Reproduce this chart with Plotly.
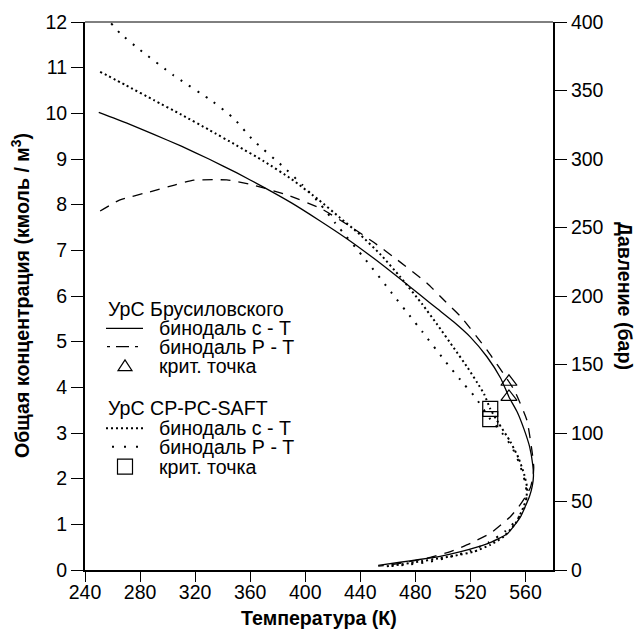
import plotly.graph_objects as go

# ---- Brusilovsky EoS: c-T binodal (liquid branch -> nose -> vapour branch)
t_brus_c = [250, 270, 290, 310, 330, 350, 370, 390, 410, 430, 450, 470, 484, 496,
            508, 520, 532, 542, 548, 554, 559, 563, 565.3, 565.8, 565.0, 563.0,
            560.0, 556.5, 547, 532, 513, 498, 483, 469, 453]
c_brus = [10.02, 9.79, 9.54, 9.28, 9.00, 8.70, 8.38, 8.04, 7.66, 7.26, 6.82, 6.35,
          6.01, 5.72, 5.43, 5.10, 4.67, 4.20, 3.79, 3.46, 3.08, 2.70, 2.30, 2.05,
          1.85, 1.62, 1.40, 1.17, 0.80, 0.57, 0.40, 0.30, 0.23, 0.17, 0.10]

# ---- Brusilovsky EoS: P-T binodal
t_brus_p = [251, 265, 287, 305, 319, 343, 362, 387, 411, 433, 450, 467, 488.5, 502,
            513, 532, 548, 552, 561, 565, 566, 565.5, 563.5, 560, 555, 549, 534.5,
            520, 505.5, 490, 475, 460, 453]
p_brus = [262, 270, 276, 281, 284.5, 284.7, 281, 273.7, 264, 250.6, 239, 226.3, 209.3,
          195.8, 184.9, 160.6, 137.4, 131.0, 109.5, 85, 75, 68, 60, 53.5, 46, 38.9,
          26.8, 19.5, 13.4, 9.0, 6.0, 3.5, 2.8]

# ---- CP-PC-SAFT EoS: c-T binodal
t_saft_c = [251, 270, 290, 310, 330, 350, 370, 390, 410, 425, 440, 455, 469, 485,
            496, 508, 518, 525, 530, 534.4, 540.6, 549, 555, 559, 561.2, 560.5,
            557.6, 552.7, 544.2, 534.5, 522.4, 508, 498, 480, 457]
c_saft = [10.91, 10.61, 10.29, 9.97, 9.64, 9.30, 8.95, 8.56, 8.10, 7.72, 7.34, 6.90,
          6.42, 5.82, 5.37, 4.86, 4.43, 4.10, 3.85, 3.53, 3.21, 2.81, 2.45, 2.10,
          1.80, 1.55, 1.31, 1.02, 0.73, 0.55, 0.40, 0.31, 0.26, 0.17, 0.07]

# ---- CP-PC-SAFT EoS: P-T binodal
t_saft_p = [259, 265.5, 280, 304, 333, 348, 362, 384, 398, 411, 422, 444, 463, 476.4,
            485, 502, 515, 523.6, 534.4, 543, 550, 555.5, 559.5, 561, 559, 554, 545,
            533, 520, 505, 490, 475, 458]
p_saft = [399, 391.7, 379.6, 361.3, 341.8, 329.7, 313.9, 294.4, 281, 267, 253, 226.3,
          202, 184.9, 174, 152, 136, 126, 110.1, 100, 90, 78, 65, 55, 45, 37, 28, 20,
          14, 9.5, 6.0, 4.0, 2.4]

# ---- critical points
t_crit_brus, c_crit_brus, p_crit_brus = 548.0, 3.79, 137.4
t_crit_saft, c_crit_saft, p_crit_saft = 534.4, 3.53, 110.1

# ---- ticks
x_ticks = [240, 280, 320, 360, 400, 440, 480, 520, 560]
c_ticks = list(range(0, 13))
p_ticks = [0, 50, 100, 150, 200, 250, 300, 350, 400]

FONT = "Liberation Sans, Arial, sans-serif"
BLACK = "#000000"

W, H = 637, 631
L, R, T, B = 85, 84, 22, 61
PW, PH = W - L - R, H - T - B


def px(x):
    return (x - L) / PW


def py(y):
    return (H - B - y) / PH


fig = go.Figure()

fig.add_trace(go.Scatter(x=t_brus_c, y=c_brus, mode="lines",
                         line=dict(color=BLACK, width=1.3, shape="spline", smoothing=0.5),
                         showlegend=False))
fig.add_trace(go.Scatter(x=t_brus_p, y=p_brus, mode="lines", yaxis="y2",
                         line=dict(color=BLACK, width=1.3, dash="10px,8px",
                                   shape="spline", smoothing=0.5),
                         showlegend=False))
fig.add_trace(go.Scatter(x=t_saft_c, y=c_saft, mode="lines",
                         line=dict(color=BLACK, width=2, dash="2px,3px",
                                   shape="spline", smoothing=0.5),
                         showlegend=False))
fig.add_trace(go.Scatter(x=t_saft_p, y=p_saft, mode="lines", yaxis="y2",
                         line=dict(color=BLACK, width=2, dash="2px,8px",
                                   shape="spline", smoothing=0.5),
                         showlegend=False))

tri = dict(symbol="triangle-up-open", size=14, color=BLACK, line=dict(width=1.2, color=BLACK))
sq = dict(symbol="square-open", size=15, color=BLACK, line=dict(width=1.2, color=BLACK))
fig.add_trace(go.Scatter(x=[t_crit_brus], y=[c_crit_brus], mode="markers", marker=tri,
                         showlegend=False))
fig.add_trace(go.Scatter(x=[t_crit_brus], y=[p_crit_brus], mode="markers", marker=tri,
                         yaxis="y2", showlegend=False))
fig.add_trace(go.Scatter(x=[t_crit_saft], y=[c_crit_saft], mode="markers", marker=sq,
                         showlegend=False))
fig.add_trace(go.Scatter(x=[t_crit_saft], y=[p_crit_saft], mode="markers", marker=sq,
                         yaxis="y2", showlegend=False))

tick_font = dict(family=FONT, size=19.5, color=BLACK)
axis_common = dict(showgrid=False, zeroline=False, showline=True, linecolor=BLACK,
                   linewidth=2, ticks="outside", tickwidth=1.3,
                   tickcolor=BLACK, tickfont=tick_font)

fig.update_layout(
    width=W, height=H, autosize=False,
    margin=dict(l=L, r=R, t=T, b=B),
    paper_bgcolor="white", plot_bgcolor="white",
    showlegend=False,
    xaxis=dict(range=[240, 580], tickvals=x_ticks, ticklen=10, ticklabelstandoff=-6,
               **axis_common),
    yaxis=dict(range=[0, 12], tickvals=c_ticks, ticklen=12, **axis_common),
    yaxis2=dict(range=[0, 400], tickvals=p_ticks, ticklen=12, overlaying="y",
                side="right", **axis_common),
)

# thin frame line along the top
fig.add_shape(type="line", xref="paper", yref="paper", x0=0, x1=1, y0=1, y1=1,
              line=dict(color=BLACK, width=1))

# axis titles
title_font = dict(family=FONT, size=19.6, color=BLACK)
fig.add_annotation(text="<b>Температура (К)</b>", xref="paper", yref="paper",
                   x=0.5, y=py(618), showarrow=False, font=title_font,
                   xanchor="center", yanchor="middle")
fig.add_annotation(text="<b>Общая концентрация (кмоль / м<sup>3</sup>)</b>",
                   xref="paper", yref="paper", x=px(21), y=py(296), textangle=-90,
                   showarrow=False, font=title_font, xanchor="center", yanchor="middle")
fig.add_annotation(text="<b>Давление (бар)</b>", xref="paper", yref="paper",
                   x=px(625), y=py(296), textangle=90, showarrow=False, font=title_font,
                   xanchor="center", yanchor="middle")

# legend block
leg_font = dict(family=FONT, size=19.6, color=BLACK)
x_sample0, x_sample1, x_text = 106, 143, 157
rows = [
    ("УрС Брусиловского", 309, None),
    ("бинодаль с - Т", 328.3, "solid"),
    ("бинодаль Р - Т", 346.7, "dash"),
    ("крит. точка", 366.5, "tri"),
    ("УрС CP-PC-SAFT", 408.3, None),
    ("бинодаль с - Т", 428.3, "dense"),
    ("бинодаль Р - Т", 446.7, "sparse"),
    ("крит. точка", 466.7, "sq"),
]
for text, yy, kind in rows:
    xt = x_sample0 if kind is None else x_text
    fig.add_annotation(text=text, xref="paper", yref="paper", x=px(xt), y=py(yy),
                       showarrow=False, font=leg_font, xanchor="left", yanchor="middle")
    if kind in ("solid", "dash", "dense", "sparse"):
        if kind == "solid":
            ln = dict(color=BLACK, width=1.3)
            xa, xb = x_sample0, x_sample1
        elif kind == "dash":
            ln = dict(color=BLACK, width=1.3, dash="3px,6px,13px,6px,3px,40px")
            xa, xb = x_sample0 + 1, x_sample1
        elif kind == "dense":
            ln = dict(color=BLACK, width=2, dash="2px,3px")
            xa, xb = x_sample0, x_sample1
        else:
            ln = dict(color=BLACK, width=2, dash="2px,10px")
            xa, xb = 112, x_sample1
        fig.add_shape(type="line", xref="paper", yref="paper",
                      x0=px(xa), x1=px(xb), y0=py(yy), y1=py(yy), line=ln)
    elif kind == "tri":
        cx, cy, s = 125, yy, 7
        path = (f"M {px(cx - s)} {py(cy + s * 0.6)} L {px(cx + s)} {py(cy + s * 0.6)} "
                f"L {px(cx)} {py(cy - s * 0.95)} Z")
        fig.add_shape(type="path", xref="paper", yref="paper", path=path,
                      line=dict(color=BLACK, width=1.2))
    elif kind == "sq":
        cx, cy, s = 125, yy, 7.5
        fig.add_shape(type="rect", xref="paper", yref="paper",
                      x0=px(cx - s), x1=px(cx + s), y0=py(cy + s), y1=py(cy - s),
                      line=dict(color=BLACK, width=1.2))

fig.write_html("out.html")
